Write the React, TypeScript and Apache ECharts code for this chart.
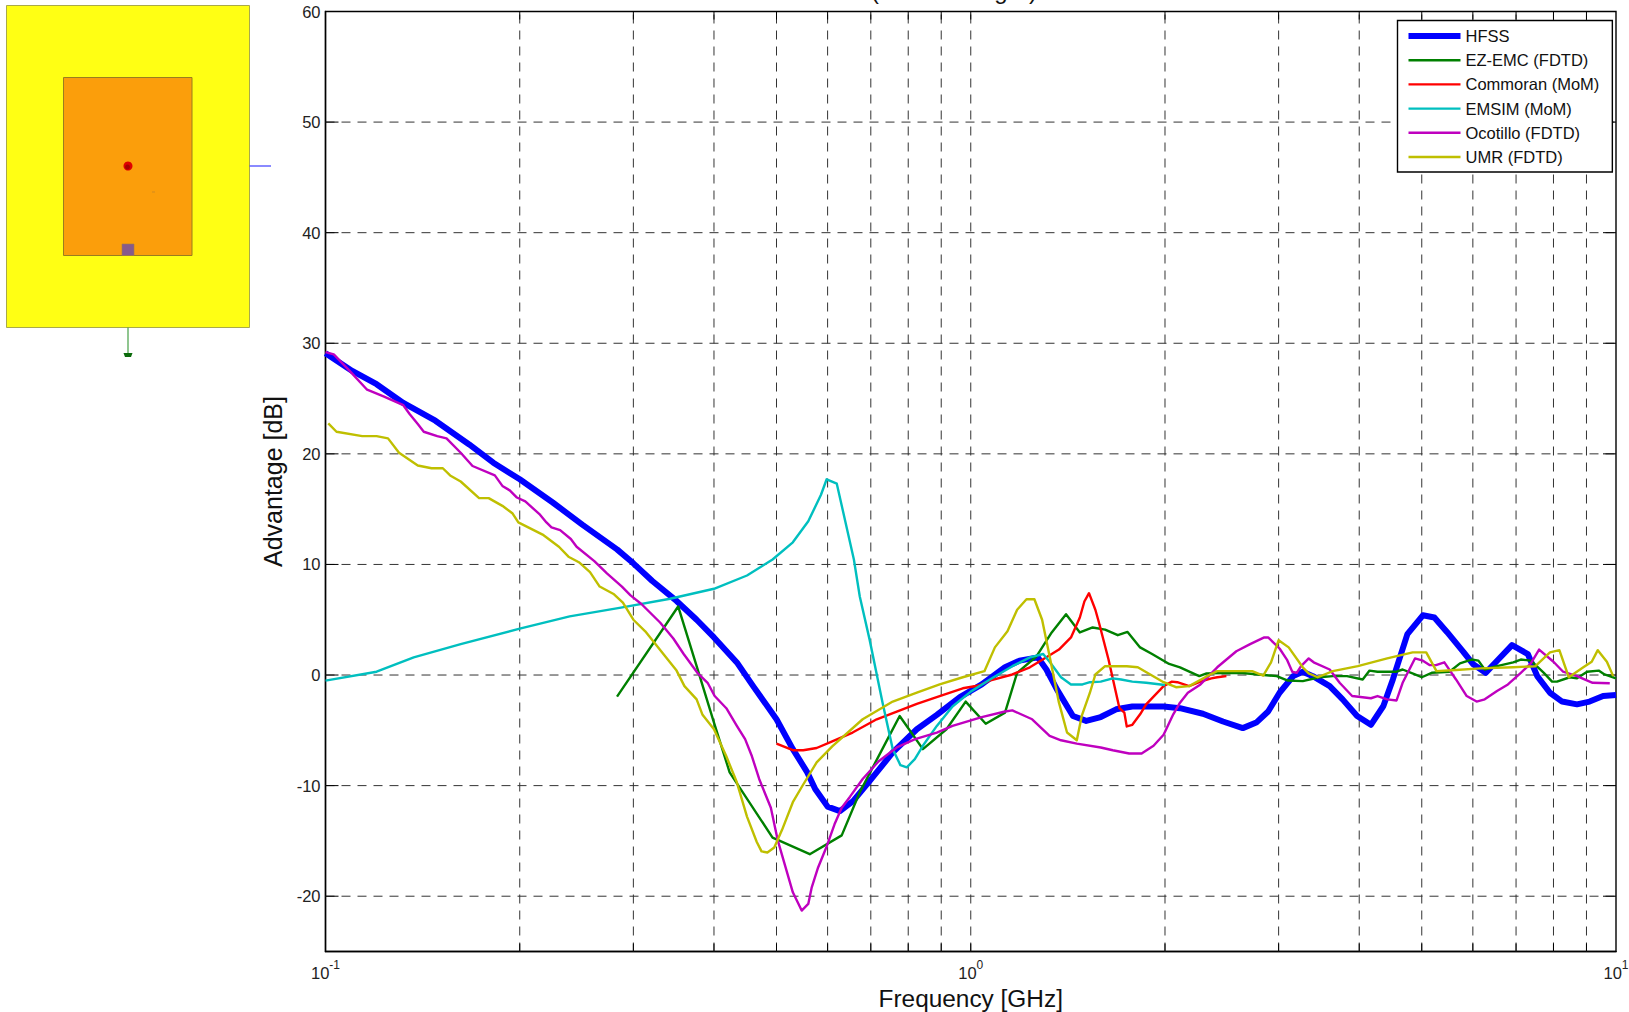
import React, { useEffect, useRef } from "react";
import * as echarts from "echarts";

type Pt = [number, number];

const gridFreqs = [0.2, 0.3, 0.4, 0.5, 0.6, 0.7, 0.8, 0.9, 1, 2, 3, 4, 5, 6, 7, 8, 9];
const yTicks = [-20, -10, 0, 10, 20, 30, 40, 50];
const yLabels = [-20, -10, 0, 10, 20, 30, 40, 50, 60];

const hfss: Pt[] = [
  [0.1, 29.1], [0.11, 27.5], [0.12, 26.3], [0.132, 24.6], [0.148, 23.0], [0.167, 20.85], [0.182, 19.2], [0.2, 17.7],
  [0.225, 15.6], [0.25, 13.6], [0.283, 11.36], [0.3, 10.1], [0.321, 8.5], [0.35, 6.7], [0.376, 5.0], [0.4, 3.4],
  [0.434, 1.14], [0.46, -1.0], [0.5, -4.0], [0.53, -6.7], [0.558, -8.8], [0.574, -10.3], [0.6, -11.9], [0.627, -12.3],
  [0.657, -11.4], [0.697, -9.6], [0.757, -7.0], [0.825, -4.9], [0.886, -3.6], [0.962, -2.0], [1.04, -0.85], [1.13, 0.7],
  [1.19, 1.3], [1.27, 1.6], [1.31, 0.5], [1.36, -1.3], [1.44, -3.7], [1.51, -4.15], [1.59, -3.8], [1.68, -3.1],
  [1.78, -2.85], [1.99, -2.85], [2.11, -3.0], [2.29, -3.5], [2.46, -4.2], [2.64, -4.8], [2.77, -4.3], [2.89, -3.3],
  [3.01, -1.6], [3.16, -0.1], [3.27, 0.3], [3.39, -0.1], [3.6, -1.0], [3.77, -2.2], [3.97, -3.7], [4.17, -4.5],
  [4.36, -2.8], [4.51, -0.4], [4.75, 3.7], [5.02, 5.4], [5.23, 5.2], [5.47, 3.9], [5.8, 2.1], [6.0, 1.0],
  [6.28, 0.2], [6.57, 1.4], [6.9, 2.7], [7.3, 1.9], [7.55, -0.1], [7.9, -1.6], [8.25, -2.4], [8.7, -2.65],
  [9.1, -2.4], [9.55, -1.9], [10, -1.8],
];

const ezEmc: Pt[] = [
  [0.283, -1.95], [0.352, 6.2], [0.376, 0.8], [0.4, -4.3], [0.423, -8.8], [0.493, -14.7], [0.563, -16.2], [0.631, -14.5],
  [0.673, -10.6], [0.74, -6.0], [0.776, -3.7], [0.843, -6.7], [0.917, -4.9], [0.982, -2.4], [1.055, -4.4], [1.13, -3.4],
  [1.18, 0.2], [1.265, 1.7], [1.335, 3.85], [1.405, 5.5], [1.476, 3.85], [1.545, 4.3], [1.615, 4.1], [1.69, 3.6],
  [1.75, 3.9], [1.83, 2.5], [1.91, 1.9], [2.03, 1.0], [2.11, 0.7], [2.26, -0.1], [2.32, 0.15], [2.61, 0.2],
  [2.98, -0.1], [3.1, -0.5], [3.27, -0.55], [3.47, -0.2], [3.64, -0.1], [3.83, -0.1], [4.05, -0.4], [4.15, 0.4],
  [4.27, 0.3], [4.57, 0.3], [4.67, 0.5], [4.88, 0.05], [5.0, -0.2], [5.18, 0.2], [5.52, 0.3], [5.73, 1.05],
  [5.97, 1.4], [6.12, 1.3], [6.26, 0.5], [6.54, 0.8], [6.93, 1.15], [7.12, 1.4], [7.38, 1.3], [7.73, 0.2],
  [7.96, -0.6], [8.1, -0.6], [8.48, -0.2], [8.7, -0.3], [9.02, 0.3], [9.4, 0.4], [9.6, 0.05], [10, -0.3],
];

const commoran: Pt[] = [
  [0.5, -6.2], [0.53, -6.8], [0.55, -6.8], [0.577, -6.6], [0.61, -6.0], [0.656, -5.2], [0.715, -4.0], [0.768, -3.3],
  [0.825, -2.6], [0.895, -1.9], [0.972, -1.2], [1.03, -0.95], [1.07, -0.5], [1.16, 0.05], [1.235, 0.7], [1.31, 1.6],
  [1.37, 2.3], [1.43, 3.4], [1.476, 5.2], [1.5, 6.65], [1.525, 7.4], [1.56, 5.9], [1.58, 4.75], [1.635, 1.4],
  [1.7, -3.0], [1.73, -3.4], [1.745, -4.65], [1.78, -4.5], [1.83, -3.55], [1.87, -2.65], [1.99, -1.0], [2.05, -0.6],
  [2.09, -0.65], [2.18, -1.0], [2.27, -0.6], [2.36, -0.3], [2.41, -0.2], [2.49, -0.1],
];

const emsim: Pt[] = [
  [0.1, -0.5], [0.12, 0.3], [0.137, 1.6], [0.162, 2.8], [0.2, 4.2], [0.239, 5.3], [0.287, 6.1], [0.342, 6.9],
  [0.4, 7.8], [0.45, 9.0], [0.493, 10.45], [0.53, 12.0], [0.56, 13.9], [0.586, 16.3], [0.598, 17.7], [0.62, 17.3],
  [0.659, 10.45], [0.673, 7.1], [0.697, 3.2], [0.73, -2.5], [0.757, -6.7], [0.778, -8.15], [0.796, -8.35], [0.819, -7.6],
  [0.843, -6.4], [0.886, -4.6], [0.937, -2.85], [1.0, -1.5], [1.085, -0.2], [1.16, 0.8], [1.235, 1.6], [1.295, 1.9],
  [1.325, 1.2], [1.38, -0.2], [1.43, -0.85], [1.49, -0.85], [1.53, -0.65], [1.59, -0.6], [1.66, -0.3], [1.71, -0.4],
  [1.78, -0.6], [1.87, -0.7], [2.0, -0.9],
];

const ocotillo: Pt[] = [
  [0.1, 29.2], [0.103, 29.0], [0.109, 27.5], [0.116, 25.8], [0.123, 25.2], [0.132, 24.4], [0.135, 23.6], [0.139, 22.7],
  [0.142, 22.0], [0.149, 21.6], [0.154, 21.4], [0.162, 20.1], [0.169, 18.9], [0.183, 18.05], [0.188, 17.1], [0.193, 16.7],
  [0.198, 16.05], [0.204, 15.7], [0.215, 14.5], [0.22, 13.8], [0.224, 13.35], [0.231, 13.1], [0.24, 12.3], [0.245, 11.6],
  [0.261, 10.3], [0.273, 9.2], [0.288, 8.0], [0.297, 7.2], [0.309, 6.4], [0.33, 4.75], [0.346, 3.3], [0.359, 1.9],
  [0.377, 0.2], [0.391, -0.7], [0.401, -1.9], [0.418, -3.0], [0.434, -4.6], [0.447, -5.8], [0.458, -7.35], [0.47, -9.4],
  [0.49, -12.0], [0.502, -14.9], [0.53, -19.65], [0.547, -21.3], [0.56, -20.7], [0.567, -19.2], [0.58, -17.4], [0.598, -15.5],
  [0.615, -13.5], [0.631, -12.0], [0.65, -11.0], [0.68, -9.4], [0.72, -7.8], [0.768, -6.55], [0.82, -5.8], [0.886, -5.2],
  [0.937, -4.6], [1.04, -3.8], [1.13, -3.3], [1.16, -3.2], [1.245, -4.0], [1.325, -5.5], [1.38, -5.9], [1.46, -6.2],
  [1.59, -6.55], [1.66, -6.8], [1.76, -7.1], [1.84, -7.1], [1.92, -6.4], [1.99, -5.4], [2.06, -3.55], [2.11, -2.5],
  [2.17, -1.6], [2.27, -0.85], [2.41, 0.7], [2.58, 2.15], [2.71, 2.8], [2.85, 3.4], [2.89, 3.4], [3.01, 2.4],
  [3.09, 1.4], [3.15, 0.3], [3.2, 0.2], [3.25, 0.8], [3.34, 1.5], [3.4, 1.15], [3.6, 0.5], [3.73, -0.7],
  [3.9, -1.9], [4.17, -2.1], [4.27, -1.9], [4.42, -2.2], [4.57, -2.3], [4.67, -0.7], [4.88, 1.5], [5.02, 1.3],
  [5.14, 0.9], [5.26, 0.9], [5.42, 1.15], [5.65, -0.4], [5.87, -1.9], [6.08, -2.4], [6.26, -2.2], [6.54, -1.45],
  [6.8, -0.85], [7.12, 0.2], [7.38, 1.05], [7.6, 2.3], [8.0, 1.2], [8.28, 0.3], [8.7, -0.1], [9.2, -0.7],
  [9.78, -0.75],
];

const umr: Pt[] = [
  [0.101, 22.75], [0.104, 22.0], [0.114, 21.6], [0.12, 21.6], [0.125, 21.4], [0.13, 20.1], [0.139, 18.95], [0.146, 18.7],
  [0.152, 18.7], [0.156, 18.05], [0.162, 17.5], [0.173, 16.0], [0.179, 16.0], [0.188, 15.3], [0.195, 14.6], [0.199, 13.8],
  [0.217, 12.7], [0.23, 11.6], [0.238, 10.7], [0.247, 10.2], [0.257, 9.3], [0.266, 8.0], [0.28, 7.3], [0.289, 6.55],
  [0.3, 5.0], [0.313, 3.95], [0.337, 1.6], [0.35, 0.4], [0.36, -1.0], [0.376, -2.2], [0.384, -3.6], [0.4, -4.9],
  [0.418, -7.35], [0.434, -9.7], [0.45, -12.8], [0.466, -15.1], [0.474, -15.95], [0.484, -16.05], [0.496, -15.6], [0.51, -14.0],
  [0.53, -11.5], [0.55, -9.9], [0.577, -7.9], [0.61, -6.45], [0.68, -4.0], [0.757, -2.4], [0.825, -1.6], [0.895, -0.85],
  [0.972, -0.2], [1.05, 0.35], [1.09, 2.5], [1.14, 3.95], [1.18, 5.9], [1.22, 6.85], [1.255, 6.85], [1.29, 5.0],
  [1.325, 1.7], [1.37, -2.5], [1.41, -5.2], [1.46, -5.9], [1.486, -3.7], [1.53, -1.6], [1.56, 0.05], [1.615, 0.8],
  [1.745, 0.8], [1.815, 0.7], [1.99, -0.65], [2.08, -1.1], [2.18, -1.0], [2.35, 0.05], [2.41, 0.35], [2.73, 0.35],
  [2.84, -0.05], [2.92, 1.15], [3.0, 3.15], [3.11, 2.5], [3.27, 0.7], [3.34, 0.15], [3.45, -0.2], [3.64, 0.35],
  [3.98, 0.8], [4.42, 1.5], [4.84, 2.05], [5.08, 2.05], [5.27, 0.35], [5.65, 0.45], [6.16, 0.6], [6.93, 0.7],
  [7.5, 0.8], [7.9, 2.05], [8.17, 2.25], [8.45, -0.2], [8.9, 0.7], [9.17, 1.2], [9.37, 2.25], [9.68, 1.2],
  [9.9, -0.1],
];

const names = ["HFSS", "EZ-EMC (FDTD)", "Commoran (MoM)", "EMSIM (MoM)", "Ocotillo (FDTD)", "UMR (FDTD)"];
const FONT = '"Liberation Sans", Arial, sans-serif';
const thinIcon = "path://M0,0H52V2.4H0Z";
const thickIcon = "path://M0,0H52V6H0Z";

export default function App() {
  const ref = useRef<HTMLDivElement>(null);
  useEffect(() => {
    const chart = echarts.init(ref.current!, undefined, { renderer: "svg" });
    const line = (name: string, data: Pt[], color: string, width: number) => ({
      name,
      type: "line",
      data,
      showSymbol: false,
      symbol: "none",
      smooth: false,
      z: 5,
      lineStyle: { color, width, cap: "butt", join: "round" },
      itemStyle: { color },
    });
    const dash = { stroke: "#333", lineWidth: 1, lineDash: [9, 7] };
    const tickStyle = { stroke: "#000", lineWidth: 1 };
    chart.setOption({
      animation: false,
      textStyle: { fontFamily: FONT },
      grid: { left: 325.5, top: 11.5, width: 1290.5, height: 940, show: true, borderColor: "#000", borderWidth: 1.4, backgroundColor: "transparent", outerBoundsMode: "none", containLabel: false },
      xAxis: {
        type: "log",
        logBase: 10,
        min: 0.1,
        max: 10,
        name: "Frequency [GHz]",
        nameLocation: "middle",
        nameGap: 28,
        nameTextStyle: { fontSize: 24.4, color: "#111", fontFamily: FONT },
        axisLine: { show: true, onZero: false, lineStyle: { color: "#000", width: 1.4 } },
        axisTick: { show: false },
        splitLine: { show: false },
        minorTick: { show: false },
        axisLabel: {
          margin: 5,
          color: "#222",
          formatter: (v: number) => `{b|10}{s|${Math.round(Math.log10(v))}}`,
          rich: {
            b: { fontSize: 16.5, fontFamily: FONT, color: "#222", padding: [8, 0, 0, 0] },
            s: { fontSize: 12, fontFamily: FONT, color: "#222", padding: [0, 0, 8, 0] },
          },
        },
      },
      yAxis: {
        type: "value",
        min: -25,
        max: 60,
        name: "Advantage [dB]",
        nameLocation: "middle",
        nameGap: 38,
        nameRotate: 90,
        nameTextStyle: { fontSize: 25, color: "#111", fontFamily: FONT },
        axisLine: { show: true, onZero: false, lineStyle: { color: "#000", width: 1.4 } },
        axisTick: { show: false },
        splitLine: { show: false },
        axisLabel: { customValues: yLabels, fontSize: 16.5, color: "#222", fontFamily: FONT, margin: 5 },
      },
      legend: {
        data: names.map((name, i) => ({ name, icon: i === 0 ? thickIcon : thinIcon })),
        left: 1397.5,
        top: 20.5,
        orient: "vertical",
        backgroundColor: "#fff",
        borderColor: "#000",
        borderWidth: 1.4,
        borderRadius: 0,
        padding: [7, 13, 6.5, 11],
        itemWidth: 52,
        itemHeight: 14,
        itemGap: 7.2,
        z: 10,
        textStyle: { fontSize: 16.5, color: "#111", fontFamily: FONT },
        selectedMode: false,
      },
      series: [
        {
          type: "custom",
          silent: true,
          z: 1,
          clip: false,
          data: gridFreqs.map((f) => [f, 0]),
          renderItem: (_p: any, api: any) => {
            const f = api.value(0);
            const b = api.coord([f, -25]);
            const t = api.coord([f, 60]);
            return {
              type: "group",
              children: [
                { type: "line", shape: { x1: b[0], y1: b[1], x2: t[0], y2: t[1] }, style: dash },
                { type: "line", shape: { x1: b[0], y1: b[1], x2: b[0], y2: b[1] - 8 }, style: tickStyle },
                { type: "line", shape: { x1: t[0], y1: t[1], x2: t[0], y2: t[1] + 8 }, style: tickStyle },
              ],
            };
          },
        },
        {
          type: "custom",
          silent: true,
          z: 1,
          clip: false,
          data: yTicks.map((y) => [0.1, y]),
          renderItem: (_p: any, api: any) => {
            const y = api.value(1);
            const l = api.coord([0.1, y]);
            const r = api.coord([10, y]);
            return {
              type: "group",
              children: [
                { type: "line", shape: { x1: l[0], y1: l[1], x2: r[0], y2: r[1] }, style: dash },
                { type: "line", shape: { x1: l[0], y1: l[1], x2: l[0] + 13, y2: l[1] }, style: tickStyle },
                { type: "line", shape: { x1: r[0], y1: r[1], x2: r[0] - 13, y2: r[1] }, style: tickStyle },
              ],
            };
          },
        },
        line(names[0], hfss, "#0000FF", 6),
        line(names[1], ezEmc, "#008000", 2.4),
        line(names[2], commoran, "#FF0000", 2.4),
        line(names[3], emsim, "#00BFBF", 2.4),
        line(names[4], ocotillo, "#BF00BF", 2.4),
        line(names[5], umr, "#BFBF00", 2.4),
      ],
      graphic: [
        { type: "rect", shape: { x: 6.5, y: 5.5, width: 243, height: 322 }, style: { fill: "#FFFF14", stroke: "#A9A94A", lineWidth: 1 } },
        { type: "rect", shape: { x: 63.5, y: 77.5, width: 128.5, height: 178 }, style: { fill: "#FB9E0B", stroke: "#9A7E1E", lineWidth: 1 } },
        { type: "rect", shape: { x: 122, y: 244, width: 12, height: 11.5 }, style: { fill: "#875A8C", stroke: "#A07A50", lineWidth: 0.6 } },
        { type: "circle", shape: { cx: 128, cy: 166, r: 4.5 }, style: { fill: "#E00000" } },
        { type: "circle", shape: { cx: 127.5, cy: 167, r: 2.5 }, style: { fill: "#A80000" } },
        { type: "rect", shape: { x: 152, y: 191.5, width: 3, height: 1 }, style: { fill: "#D08A20" } },
        { type: "line", shape: { x1: 249.5, y1: 166, x2: 271, y2: 166 }, style: { stroke: "#3C3CFF", lineWidth: 1.2 } },
        { type: "line", shape: { x1: 128, y1: 327.5, x2: 128, y2: 353 }, style: { stroke: "#45A045", lineWidth: 1.2 } },
        { type: "polygon", shape: { points: [[123.5, 353], [132.5, 353], [131, 357], [125, 357]] }, style: { fill: "#0B6B0B" } },
        { type: "text", x: 875, y: 2, style: { text: "(", fontSize: 24, fontFamily: FONT, fill: "#111", align: "center", verticalAlign: "bottom" } },
        { type: "text", x: 1001, y: 2, style: { text: "g", fontSize: 24, fontFamily: FONT, fill: "#111", align: "center", verticalAlign: "bottom" } },
        { type: "text", x: 1033, y: 2, style: { text: ")", fontSize: 24, fontFamily: FONT, fill: "#111", align: "center", verticalAlign: "bottom" } },
      ],
    });
    return () => chart.dispose();
  }, []);
  return <div ref={ref} style={{ position: "fixed", left: 0, top: 0, width: 1629, height: 1012, background: "#fff" }} />;
}
